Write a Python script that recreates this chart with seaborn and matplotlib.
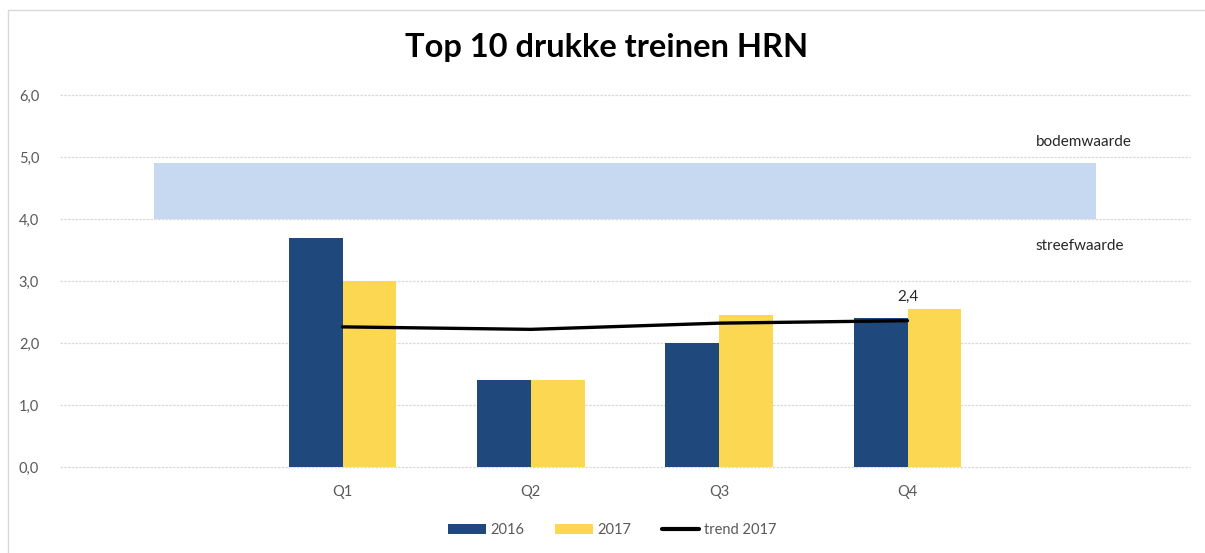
"""Top 10 drukke treinen HRN"""
import numpy as np
import pandas as pd
import seaborn as sns
from matplotlib import pyplot as plt
from matplotlib.lines import Line2D
from matplotlib.patches import Patch
from matplotlib.ticker import FuncFormatter

# data
quarters = ["Q1", "Q2", "Q3", "Q4"]
years = ["2016", "2017"]
values_2016 = [3.7, 1.4, 2.0, 2.4]
values_2017 = [3.0, 1.4, 2.45, 2.55]
trend_2017 = [2.26, 2.22, 2.32, 2.36]
streefwaarde = 4.0
bodemwaarde = 4.9

NAVY = "#1F487C"
YELLOW = "#FCD751"
BAND = "#C6D9F0"
GREY_TEXT = "#595959"
GRID = "#D9D9D9"

sns.set_theme(style="white")
plt.rcParams["font.family"] = ["Lato", "DejaVu Sans"]

W, H = 1205, 553
fig = plt.figure(figsize=(W / 100, H / 100), dpi=100)
ax = fig.add_axes([60 / W, 1 - 467 / H, 1130 / W, 372 / H])

df = pd.DataFrame(
    {
        "kwartaal": quarters * 2,
        "jaar": [years[0]] * len(quarters) + [years[1]] * len(quarters),
        "waarde": values_2016 + values_2017,
    }
)

# target band between streefwaarde and bodemwaarde (spans the empty outer categories)
ax.fill_between(
    [-1, len(quarters)], streefwaarde, bodemwaarde, color=BAND, lw=0, zorder=1
)

sns.barplot(
    data=df,
    x="kwartaal",
    y="waarde",
    hue="jaar",
    order=quarters,
    hue_order=years,
    palette={years[0]: NAVY, years[1]: YELLOW},
    width=0.57,
    saturation=1,
    legend=False,
    edgecolor="none",
    linewidth=0,
    ax=ax,
    zorder=2,
)

sns.lineplot(
    x=np.arange(len(quarters)),
    y=trend_2017,
    color="black",
    lw=2.4,
    ax=ax,
    zorder=3,
)

# label on the last trend point
ax.annotate(
    f"{trend_2017[-1]:.1f}".replace(".", ","),
    xy=(len(quarters) - 1, trend_2017[-1]),
    xytext=(0, 17),
    textcoords="offset points",
    ha="center",
    va="center",
    fontsize=11,
    color="#262626",
    zorder=4,
)

ax.text(3.68, 5.24, "bodemwaarde", fontsize=11, color="#262626", va="center")
ax.text(3.68, 3.56, "streefwaarde", fontsize=11, color="#262626", va="center")

ax.set_xlim(-1.5, len(quarters) + 0.5)
ax.set_ylim(0, 6)
ax.set_yticks(range(0, 7))
ax.yaxis.set_major_formatter(FuncFormatter(lambda v, _: f"{v:.1f}".replace(".", ",")))
ax.yaxis.grid(True, color=GRID, linestyle=(0, (2, 1)), lw=0.9, zorder=0)
ax.set_axisbelow(True)
for gl in ax.yaxis.get_gridlines():
    gl.set_clip_on(False)
for s in ax.spines.values():
    s.set_visible(False)
ax.tick_params(axis="y", length=0, pad=15, labelsize=10.5, labelcolor=GREY_TEXT)
ax.tick_params(axis="x", length=0, pad=13, labelsize=10.5, labelcolor=GREY_TEXT)
ax.set_xlabel("")
ax.set_ylabel("")

fig.text(
    607 / W,
    1 - 48 / H,
    "Top 10 drukke treinen HRN",
    ha="center",
    va="center",
    fontsize=23.5,
    fontweight="bold",
    color="black",
)

handles = [
    Patch(facecolor=NAVY, edgecolor="none", label=years[0]),
    Patch(facecolor=YELLOW, edgecolor="none", label=years[1]),
    Line2D([], [], color="black", lw=3, label="trend 2017"),
]
leg = fig.legend(
    handles=handles,
    loc="center",
    bbox_to_anchor=(612 / W, 1 - 530 / H),
    ncol=3,
    frameon=False,
    fontsize=10.5,
    handlelength=2.6,
    handleheight=0.7,
    handletextpad=0.3,
    columnspacing=2.1,
)
for t in leg.get_texts():
    t.set_color(GREY_TEXT)

# chart frame (left and top edge visible)
fig.add_artist(Line2D([8 / W, 8 / W], [0, 1 - 10 / H], color=GRID, lw=1))
fig.add_artist(Line2D([8 / W, 1], [1 - 10 / H, 1 - 10 / H], color=GRID, lw=1))

fig.savefig("out.png", dpi=100)
